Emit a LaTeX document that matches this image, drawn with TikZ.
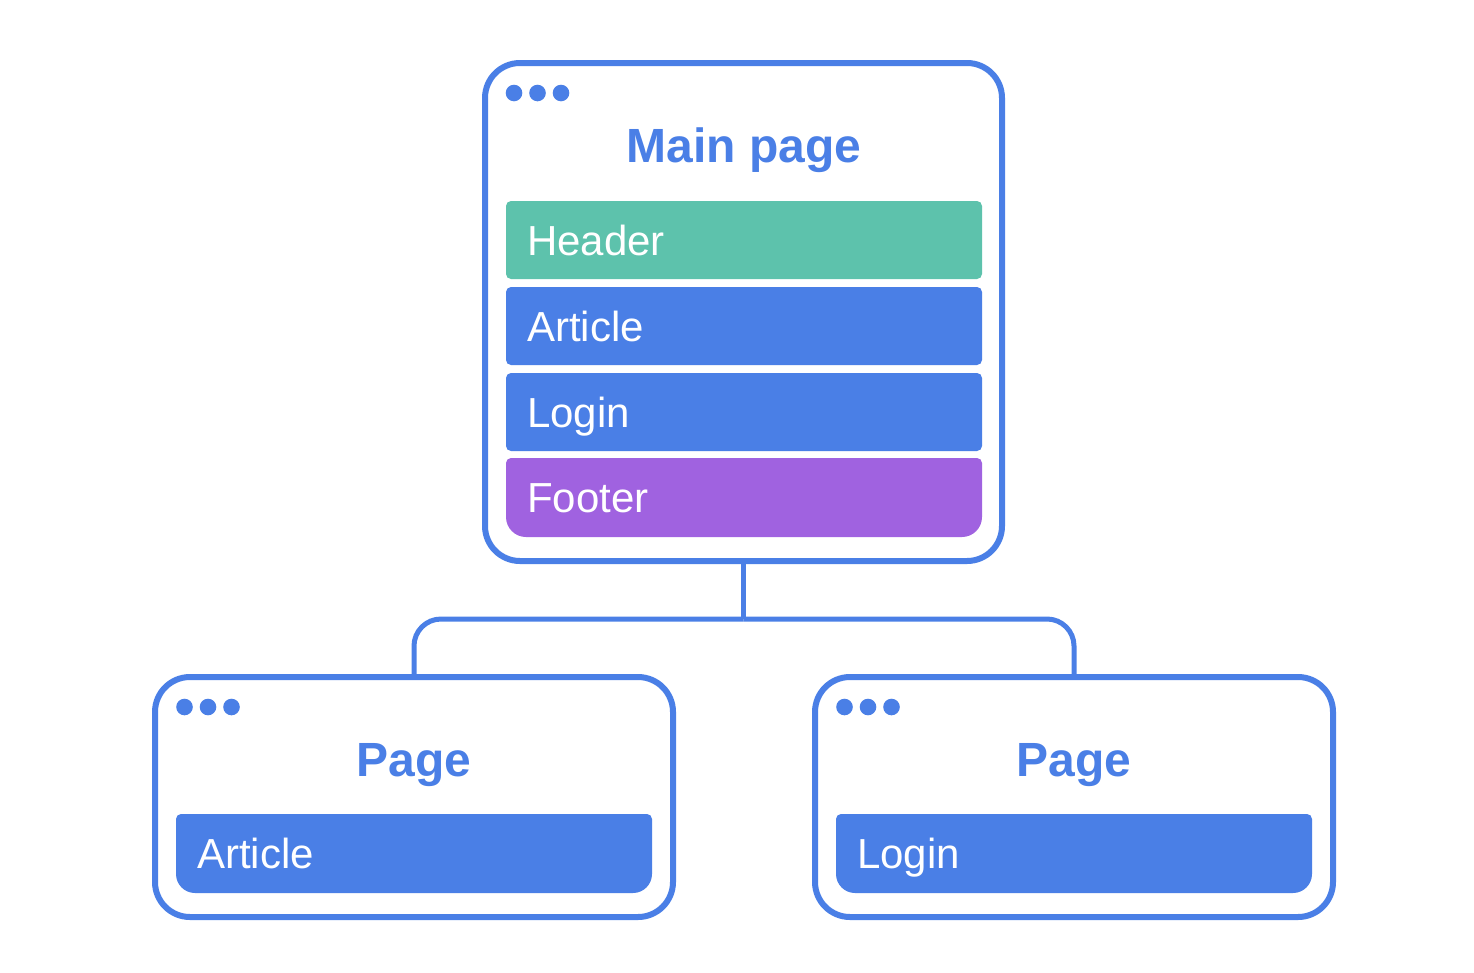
\documentclass[tikz,border=0pt]{standalone}
\usepackage{fontspec}
\setmainfont{Liberation Sans}
\usetikzlibrary{calc}
\definecolor{frame}{HTML}{4A7FE6}
\definecolor{barblue}{HTML}{4A7FE6}
\definecolor{barteal}{HTML}{5DC2AC}
\definecolor{barpurple}{HTML}{A062E0}
\tikzset{
  window/.style={draw=frame, line width=6pt, rounded corners=35pt, fill=white,
    rectangle, outer sep=0pt, inner sep=0pt},
  wtitle/.style={text=frame, font=\fontsize{48}{48}\selectfont\bfseries,
    anchor=base, inner sep=0pt},
  bartext/.style={text=white, font=\fontsize{42}{42}\selectfont,
    anchor=base west, inner sep=0pt},
  dot/.style={fill=frame, draw=none},
  link/.style={draw=frame, line width=5pt},
}
% bar with small top corners and a chosen bottom radius
% #1 colour, #2 left, #3 right, #4 top, #5 bottom, #6 bottom radius
\newcommand{\contentbar}[6]{%
  \fill[#1] (#2,{(#4+#5)/2}) [rounded corners=5pt] |- ({(#2+#3)/2},#4) -| (#3,{(#4+#5)/2})
    [rounded corners=#6] |- ({(#2+#3)/2},#5) -| cycle;}
\newcommand{\windowdots}[2]{%
  \fill[dot] (#1,#2) circle (8.3pt) ({#1+23.5},#2) circle (8.3pt) ({#1+47},#2) circle (8.3pt);}
\begin{document}
\begin{tikzpicture}[x=1pt,y=-1pt]
\useasboundingbox (0,0) rectangle (1474,972);

% windows
\node[window, minimum width=517pt, minimum height=498pt] (main) at (743.5,312) {};
\node[window, minimum width=518pt, minimum height=240pt] (left) at (414,797) {};
\node[window, minimum width=518pt, minimum height=240pt] (right) at (1074,797) {};

% tree connector
\coordinate (junction) at (743.5,619);
\draw[link] (main.south) -- (junction);
\draw[link, rounded corners=27pt] (junction) -| (left.north);
\draw[link, rounded corners=27pt] (junction) -| (right.north);

% window controls
\windowdots{514}{93}
\windowdots{184.5}{707}
\windowdots{844.5}{707}

% titles
\node[wtitle] (maintitle) at (744,162) {Main page};
\node[wtitle] (lefttitle) at (414,776) {Page};
\node[wtitle] (righttitle) at (1074,776) {Page};

% main page sections
\contentbar{barteal}{506}{982}{201}{279}{5pt}
\contentbar{barblue}{506}{982}{287}{365}{5pt}
\contentbar{barblue}{506}{982}{373}{451}{5pt}
\contentbar{barpurple}{506}{982}{458}{537}{20pt}
\node[bartext] (header) at (527,255) {Header};
\node[bartext] (article) at (527,341) {Article};
\node[bartext] (login) at (527,427) {Login};
\node[bartext] (footer) at (527,512) {Footer};

% child page sections
\contentbar{barblue}{176}{652}{814}{893}{19pt}
\contentbar{barblue}{836}{1312}{814}{893}{19pt}
\node[bartext] (leftarticle) at (197,868) {Article};
\node[bartext] (rightlogin) at (857,868) {Login};
\end{tikzpicture}
\end{document}
